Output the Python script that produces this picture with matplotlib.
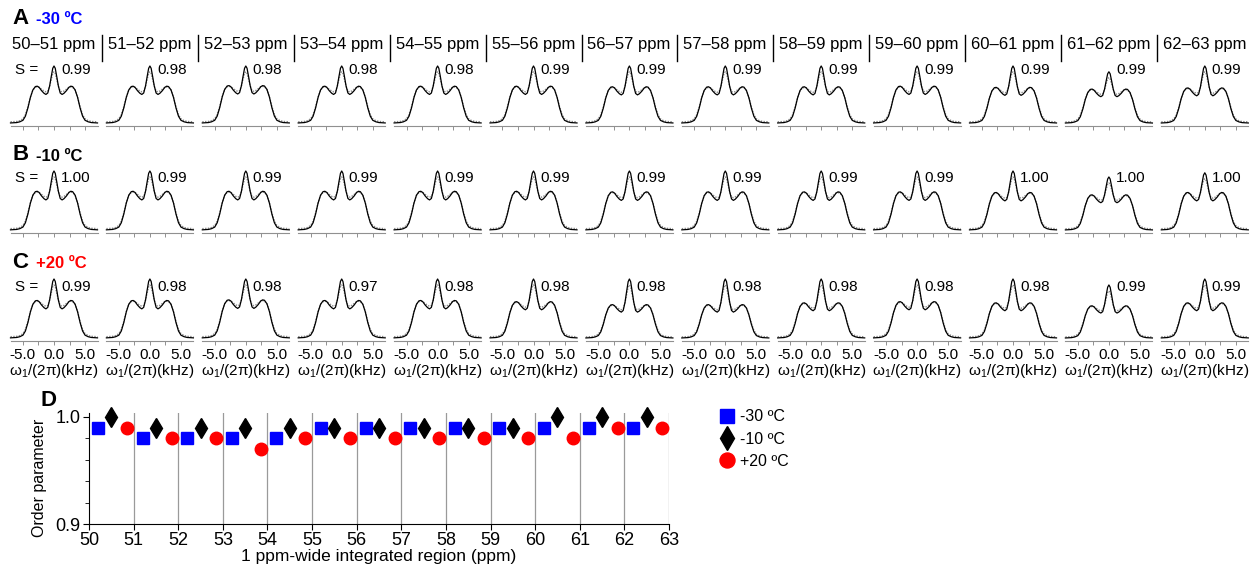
import numpy as np
import matplotlib
matplotlib.use("Agg")
import matplotlib.pyplot as plt
from matplotlib.ticker import MultipleLocator, FixedLocator

plt.rcParams['font.family'] = ['Liberation Sans', 'DejaVu Sans']
plt.rcParams['mathtext.fontset'] = 'custom'
plt.rcParams['mathtext.rm'] = 'Liberation Sans'
plt.rcParams['mathtext.it'] = 'Liberation Sans:italic'

# ---- data ----
regions = ['50–51 ppm', '51–52 ppm', '52–53 ppm', '53–54 ppm', '54–55 ppm', '55–56 ppm',
           '56–57 ppm', '57–58 ppm', '58–59 ppm', '59–60 ppm', '60–61 ppm', '61–62 ppm', '62–63 ppm']
region_start = [50, 51, 52, 53, 54, 55, 56, 57, 58, 59, 60, 61, 62]

temps = ['-30 ºC', '-10 ºC', '+20 ºC']
S_m30 = [0.99, 0.98, 0.98, 0.98, 0.98, 0.99, 0.99, 0.99, 0.99, 0.99, 0.99, 0.99, 0.99]
S_m10 = [1.00, 0.99, 0.99, 0.99, 0.99, 0.99, 0.99, 0.99, 0.99, 0.99, 1.00, 1.00, 1.00]
S_p20 = [0.99, 0.98, 0.98, 0.97, 0.98, 0.98, 0.98, 0.98, 0.98, 0.98, 0.98, 0.99, 0.99]

# lineshape (kHz, relative intensity)
spec_x = [-7.0, -6.0, -5.5, -5.0, -4.6, -4.2, -3.8, -3.4, -3.0, -2.7, -2.4, -2.0, -1.6,
          -1.3, -1.0, -0.7, -0.45, -0.2, 0.0, 0.2, 0.45, 0.7, 1.0, 1.3, 1.6, 2.0,
          2.4, 2.7, 3.0, 3.4, 3.8, 4.2, 4.6, 5.0, 5.5, 6.0, 7.0]
wide_solid = [0.02, 0.03, 0.05, 0.09, 0.2, 0.42, 0.7, 0.9, 0.99, 1.0, 0.97, 0.88, 0.81,
              0.78, 0.78, 0.78, 0.78, 0.78, 0.78, 0.78, 0.78, 0.78, 0.78, 0.78, 0.81, 0.88,
              0.97, 1.0, 0.99, 0.9, 0.7, 0.42, 0.2, 0.09, 0.05, 0.03, 0.02]
wide_fit = [0.05, 0.06, 0.08, 0.13, 0.24, 0.45, 0.71, 0.9, 0.97, 0.98, 0.97, 0.92, 0.87,
            0.85, 0.84, 0.84, 0.84, 0.84, 0.84, 0.84, 0.84, 0.84, 0.84, 0.85, 0.87, 0.92,
            0.97, 0.98, 0.97, 0.9, 0.71, 0.45, 0.24, 0.13, 0.08, 0.06, 0.05]
spike = [0, 0, 0, 0, 0, 0, 0, 0, 0, 0, 0, 0, 0,
         0, 0.05, 0.3, 0.62, 0.92, 1.0, 0.92, 0.62, 0.3, 0.05, 0, 0, 0,
         0, 0, 0, 0, 0, 0, 0, 0, 0, 0, 0]

# per panel peak heights (centre, shoulder)
top_A = [1.0, 1.0, 1.0, 1.0, 1.0, 1.0, 1.0, 1.0, 1.0, 1.0, 1.0, 0.9, 1.0]
side_A = [0.65, 0.65, 0.66, 0.65, 0.65, 0.65, 0.64, 0.64, 0.64, 0.65, 0.63, 0.6, 0.62]
top_B = [1.0, 1.0, 1.0, 1.0, 1.0, 1.0, 1.0, 1.0, 1.0, 1.0, 1.0, 0.9, 0.97]
side_B = [0.66, 0.66, 0.66, 0.66, 0.66, 0.66, 0.65, 0.65, 0.65, 0.65, 0.64, 0.6, 0.64]
top_C = [1.0, 1.0, 1.0, 1.0, 1.0, 1.0, 1.0, 1.0, 1.0, 1.0, 1.0, 0.9, 1.0]
side_C = [0.64, 0.64, 0.65, 0.64, 0.64, 0.62, 0.57, 0.57, 0.6, 0.62, 0.6, 0.55, 0.6]

W, H = 1252, 564
fig = plt.figure(figsize=(W / 100, H / 100), dpi=100)


def px_axes(left, top, w, h):
    return fig.add_axes([left / W, 1 - (top + h) / H, w / W, h / H])


def ftext(x, y, s, **kw):
    fig.text(x / W, 1 - y / H, s, **kw)


col_step = 95.9
rows = [
    dict(top=66, bottom=126, S=S_m30, tops=top_A, sides=side_A, letter='A', ly=18, color='blue', sy=70),
    dict(top=171, bottom=233, S=S_m10, tops=top_B, sides=side_B, letter='B', ly=155, color='black', sy=178),
    dict(top=279, bottom=341, S=S_p20, tops=top_C, sides=side_C, letter='C', ly=263, color='red', sy=287),
]

sx = np.array(spec_x)
for r, row in enumerate(rows):
    ftext(12, row['ly'], row['letter'], fontsize=16, fontweight='bold', va='center')
    ftext(36, row['ly'] + 1, temps[r], fontsize=12, fontweight='bold', color=row['color'], va='center')
    ftext(15, row['sy'], 'S =', fontsize=11, va='center')
    for k in range(13):
        cx = 54 + col_step * k
        ax = px_axes(cx - 43.5, row['top'], 87, row['bottom'] - row['top'])
        sd = row['sides'][k]
        tp = row['tops'][k]
        y_exp = sd * np.array(wide_solid) + (tp - sd * 0.78) * np.array(spike)
        y_fit = sd * np.array(wide_fit) + (tp - 0.1 - sd * 0.84) * np.array(spike)
        ax.plot(sx, y_fit, color='#8a8a8a', lw=1.0, ls=(0, (1, 1)), clip_on=False)
        ax.plot(sx, y_exp, color='black', lw=0.9, clip_on=False)
        ax.set_xlim(-7, 7)
        ax.set_ylim(-0.04, 1.0)
        for s in ['top', 'right', 'left']:
            ax.spines[s].set_visible(False)
        ax.spines['bottom'].set_color('#909090')
        ax.spines['bottom'].set_linewidth(0.8)
        ax.set_yticks([])
        ax.xaxis.set_major_locator(FixedLocator([-5, 0, 5]))
        ax.xaxis.set_minor_locator(FixedLocator([-2.5, 2.5]))
        ax.tick_params(axis='x', which='both', length=3, width=0.7, color='#909090', pad=2)
        if r == 2:
            ax.set_xticklabels(['-5.0', '0.0', '5.0'], fontsize=11)
            ax.set_xlabel(r'$\mathregular{\omega_1}$/(2π)(kHz)', fontsize=11, labelpad=0)
        else:
            ax.set_xticklabels([])
        ax.patch.set_alpha(0)
        ftext(cx + 7, row['sy'], '%.2f' % row['S'][k], fontsize=11, va='center')

# headers for row A
for k in range(13):
    ftext(12 + col_step * k, 45, regions[k], fontsize=12, va='center')
    if k < 12:
        xl = (102 + col_step * k) / W
        fig.add_artist(plt.Line2D([xl, xl], [1 - 35 / H, 1 - 61 / H], color='black', lw=1.0))

# ---- panel D ----
axd = px_axes(89, 413, 580, 111)
x_m30 = [s + 0.2 for s in region_start]
x_m10 = [s + 0.5 for s in region_start]
x_p20 = [s + 0.85 for s in region_start]
for g in range(51, 64):
    axd.axvline(g, color='#9a9a9a', lw=0.9, zorder=0)
axd.plot(x_m30, S_m30, 's', color='blue', ms=8.5, ls='none', label=temps[0], clip_on=False)
axd.plot(x_m10, S_m10, 'd', color='black', ms=10, ls='none', label=temps[1], clip_on=False)
axd.plot(x_p20, S_p20, 'o', color='red', ms=9, ls='none', label=temps[2], clip_on=False)
axd.set_xlim(50, 63)
axd.set_ylim(0.9, 1.0037)
axd.spines['top'].set_visible(False)
axd.spines['right'].set_visible(False)
axd.xaxis.set_major_locator(MultipleLocator(1))
axd.yaxis.set_major_locator(FixedLocator([0.9, 1.0]))
axd.yaxis.set_minor_locator(FixedLocator([0.92, 0.94, 0.96, 0.98]))
axd.set_yticklabels(['0.9', '1.0'])
axd.tick_params(axis='both', which='major', labelsize=13, length=4, pad=2)
axd.tick_params(axis='y', which='minor', length=3)
axd.set_ylabel('Order parameter', fontsize=11.5, labelpad=3)
axd.yaxis.set_label_coords(-0.072, 0.42)
axd.set_xlabel('1 ppm-wide integrated region (ppm)', fontsize=12.5, labelpad=0)
axd.legend(loc='upper left', bbox_to_anchor=(713 / W, 1 - 403 / H), bbox_transform=fig.transFigure,
           frameon=False, fontsize=11.5, handlelength=1.0, handletextpad=0.3, labelspacing=0.45,
           borderaxespad=0, markerscale=1.2)
ftext(40, 400, 'D', fontsize=16, fontweight='bold', va='center')

fig.savefig('out.png', dpi=100)
